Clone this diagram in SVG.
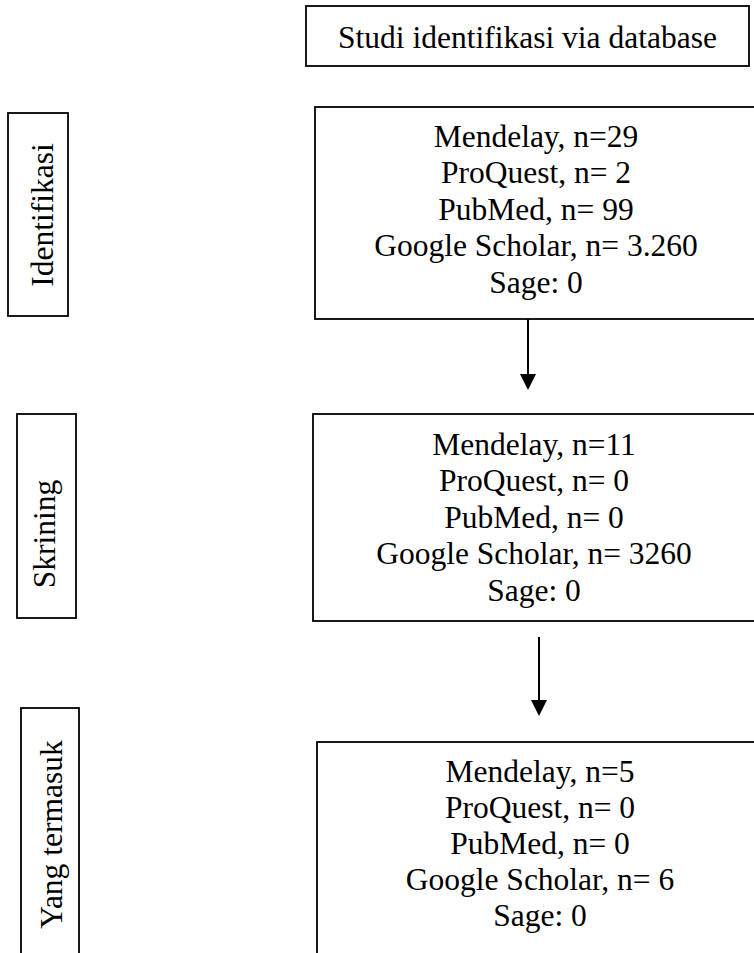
<svg xmlns="http://www.w3.org/2000/svg" width="754" height="953" viewBox="0 0 754 953">
<style>
.box{fill:#fff;stroke:#000;stroke-width:1.8}
.t{font-family:"Liberation Serif","Times New Roman",serif;font-size:31.5px;fill:#000;text-anchor:middle}
.edge{stroke:#000;stroke-width:2;fill:none}
.head{fill:#000}
</style>
<rect width="754" height="953" fill="#fff"/>
<g id="header">
<rect class="box" x="306" y="6" width="443" height="60"/>
<text class="t" x="527.5" y="48">Studi identifikasi via database</text>
</g>
<g id="stage-identifikasi">
<rect class="box" x="8" y="113" width="60" height="203"/>
<text class="t" transform="translate(53,215) rotate(-90)">Identifikasi</text>
</g>
<g id="stage-skrining">
<rect class="box" x="17" y="414" width="59" height="204"/>
<text class="t" transform="translate(55,534) rotate(-90)">Skrining</text>
</g>
<g id="stage-termasuk">
<rect class="box" x="21" y="708" width="58" height="260"/>
<text class="t" transform="translate(62,834.5) rotate(-90)">Yang termasuk</text>
</g>
<g id="box-identifikasi">
<rect class="box" x="315" y="107" width="460" height="212"/>
<text class="t" x="536" y="146.7">Mendelay, n=29</text>
<text class="t" x="536" y="183">ProQuest, n= 2</text>
<text class="t" x="536" y="219.5">PubMed, n= 99</text>
<text class="t" x="536" y="256">Google Scholar, n= 3.260</text>
<text class="t" x="536" y="292.5">Sage: 0</text>
</g>
<g id="box-skrining">
<rect class="box" x="313" y="414" width="460" height="207"/>
<text class="t" x="534" y="454.5">Mendelay, n=11</text>
<text class="t" x="534" y="491">ProQuest, n= 0</text>
<text class="t" x="534" y="527.5">PubMed, n= 0</text>
<text class="t" x="534" y="564">Google Scholar, n= 3260</text>
<text class="t" x="534" y="600.5">Sage: 0</text>
</g>
<g id="box-termasuk">
<rect class="box" x="317" y="742" width="460" height="230"/>
<text class="t" x="540" y="781.7">Mendelay, n=5</text>
<text class="t" x="540" y="817.5">ProQuest, n= 0</text>
<text class="t" x="540" y="853.5">PubMed, n= 0</text>
<text class="t" x="540" y="890">Google Scholar, n= 6</text>
<text class="t" x="540" y="926">Sage: 0</text>
</g>
<g id="connectors">
<line class="edge" x1="528" y1="319" x2="528" y2="375"/>
<path class="head" d="M520,374 L536,374 L528,390 Z"/>
<line class="edge" x1="539" y1="637" x2="539" y2="701"/>
<path class="head" d="M531,700 L547,700 L539,716 Z"/>
</g>
</svg>
